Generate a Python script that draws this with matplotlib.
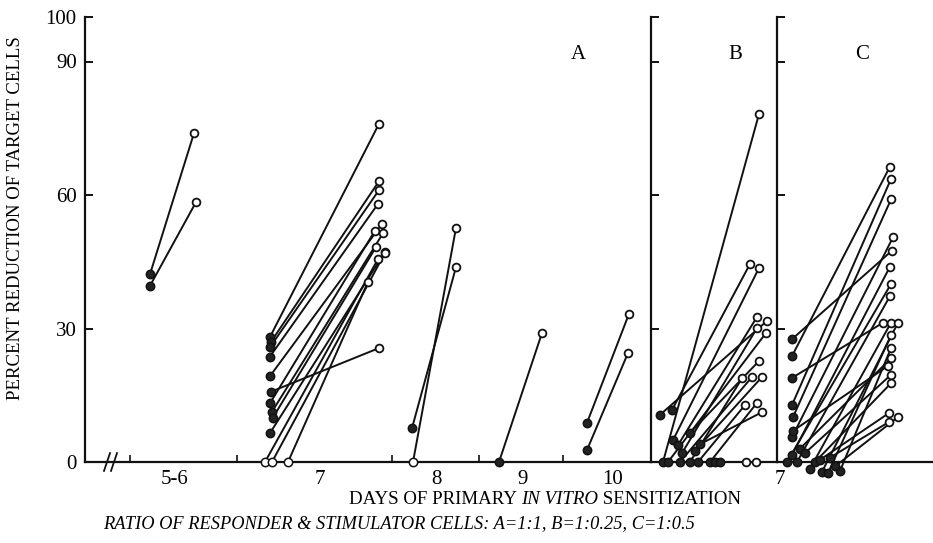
import matplotlib
matplotlib.use("Agg")
import matplotlib.pyplot as plt
from matplotlib.ticker import FixedLocator, NullFormatter, FixedFormatter

plt.rcParams['font.family'] = ['Liberation Serif', 'DejaVu Serif']

# ---------------- data (start x, start value, end x, end value) ----------------
# Panel A, ratio 1:1 (x in panel-local units)
a_x0 = [65, 65,
        185, 186, 185, 185, 185, 186, 185, 187, 188, 185, 180, 187, 203,
        327, 328,
        414,
        502, 502]
a_y0 = [42.2, 39.6,
        28.1, 27.0, 25.8, 23.7, 19.3, 15.8, 13.2, 11.3, 10.0, 6.5, 0, 0, 0,
        7.6, 0,
        0,
        8.8, 2.7]
a_x1 = [109, 111,
        294, 294, 294, 293, 297, 294, 290, 298, 291, 300, 293, 300, 283,
        371, 371,
        457,
        544, 543]
a_y1 = [73.9, 58.4,
        76.0, 63.1, 61.1, 58.0, 53.5, 25.6, 52.0, 51.4, 48.3, 47.2, 45.6, 47.0, 40.5,
        43.8, 52.6,
        29.0,
        33.3, 24.5]
a_start_filled = [True, True,
                  True, True, True, True, True, True, True, True, True, True, False, False, False,
                  True, False,
                  True,
                  True, True]

# Panel B, ratio 1:0.25
b_x0 = [12, 21, 22, 9, 27, 31, 17, 39, 29, 39, 44, 47, 59, 49, 64, 69]
b_y0 = [0, 11.7, 4.9, 10.6, 3.8, 2.0, 0, 6.5, 0, 0, 2.5, 0, 0, 4.0, 0, 0]
b_x1 = [108, 99, 108, 116, 106, 106, 115, 108, 101, 91, 111, 94, 106, 111, 95, 105]
b_y1 = [78.2, 44.5, 43.6, 31.7, 32.6, 30.1, 29.0, 22.7, 19.1, 18.8, 19.1, 12.8, 13.3, 11.2, 0, 0]

# Panel C, ratio 1:0.5
c_x0 = [15, 15, 15, 15, 16, 15, 15, 10, 20, 33, 45, 51, 63, 23, 16, 28, 38, 43, 58, 53]
c_y0 = [27.6, 23.8, 18.9, 12.8, 10.1, 5.6, 1.6, 0, 0, -1.5, -2.2, -2.5, -2.0, 3.0, 7.0, 2.0, 0, 0.5, -1.0, 1.0]
c_x1 = [115, 113, 106, 114, 114, 116, 113, 114, 113, 114, 121, 114, 114, 114, 111, 114, 114, 112, 121, 112]
c_y1 = [47.5, 66.4, 31.3, 63.6, 59.0, 50.5, 43.9, 40.0, 37.3, 31.3, 31.3, 28.5, 25.6, 23.3, 21.6, 19.6, 17.7, 11.0, 10.1, 9.0]

y_ticks = [0, 30, 60, 90, 100]
a_boundaries = [45, 152, 307, 394, 478]
a_day_pos = [90, 235, 351, 438, 528]
a_day_labels = ['5-6', '7', '8', '9', '10']
panel_names = ['A', 'B', 'C']

# ---------------- figure ----------------
W, H = 933, 543
fig = plt.figure(figsize=(W / 100, H / 100), dpi=100)

def fx(px):
    return px / W

def fy(py):
    return 1 - py / H

top, bottom = 17, 462
axA = fig.add_axes([fx(85), fy(bottom), fx(651 - 85), (bottom - top) / H])
axB = fig.add_axes([fx(651), fy(bottom), fx(777 - 651), (bottom - top) / H])
axC = fig.add_axes([fx(777), fy(bottom), fx(933 - 777), (bottom - top) / H])

ink = '#111111'
for ax, width in [(axA, 566), (axB, 126), (axC, 156)]:
    ax.set_xlim(0, width)
    ax.set_ylim(0, 100)
    ax.patch.set_alpha(0)
    for s in ['top', 'right']:
        ax.spines[s].set_visible(False)
    for s in ['left', 'bottom']:
        ax.spines[s].set_linewidth(1.6)
        ax.spines[s].set_color(ink)
    ax.yaxis.set_major_locator(FixedLocator(y_ticks))
    ax.tick_params(axis='y', direction='in', length=6, width=1.4, color=ink)
    ax.tick_params(axis='x', which='both', direction='in', length=5, width=1.2, color=ink)

axA.set_yticklabels([str(t) for t in y_ticks], fontsize=15)
axA.tick_params(axis='y', pad=6)
axB.set_yticklabels([])
axC.set_yticklabels([])

axA.xaxis.set_major_locator(FixedLocator(a_boundaries))
axA.xaxis.set_major_formatter(NullFormatter())
axA.xaxis.set_minor_locator(FixedLocator(a_day_pos))
axA.xaxis.set_minor_formatter(FixedFormatter(a_day_labels))
axA.tick_params(axis='x', which='minor', length=0, labelsize=15, pad=6)
axB.set_xticks([])
axC.set_xticks([3])
axC.set_xticklabels(['7'], fontsize=15)
axC.tick_params(axis='x', length=0, pad=6)

def draw(ax, x0, y0, x1, y1, filled=None):
    for i in range(len(x0)):
        ax.plot([x0[i], x1[i]], [y0[i], y1[i]], color=ink, lw=1.4,
                solid_capstyle='round', clip_on=False, zorder=2)
    for i in range(len(x0)):
        f = True if filled is None else filled[i]
        ax.plot([x0[i]], [y0[i]], marker='o', ms=6.0,
                mfc='#222222' if f else 'white', mec=ink, mew=1.1,
                clip_on=False, zorder=3)
        ax.plot([x1[i]], [y1[i]], marker='o', ms=5.6, mfc='white', mec=ink,
                mew=1.3, clip_on=False, zorder=4)

draw(axA, a_x0, a_y0, a_x1, a_y1, a_start_filled)
draw(axB, b_x0, b_y0, b_x1, b_y1)
draw(axC, c_x0, c_y0, c_x1, c_y1)

# axis break marks
for bx in [22, 29]:
    axA.plot([bx - 3, bx + 3], [-2, 2], color=ink, lw=1.3, clip_on=False)

# panel letters
axA.text(493, 91.5, panel_names[0], fontsize=15, ha='center', va='center')
axB.text(84, 91.5, panel_names[1], fontsize=15, ha='center', va='center')
axC.text(85, 91.5, panel_names[2], fontsize=15, ha='center', va='center')

# y label
fig.text(fx(16), fy(218), 'PERCENT REDUCTION OF TARGET CELLS', rotation=90,
         fontsize=13.5, ha='center', va='center')

# x label with italic part
parts = [('DAYS OF PRIMARY ', 'normal'), ('IN VITRO', 'italic'), (' SENSITIZATION', 'normal')]
fig.canvas.draw()
renderer = fig.canvas.get_renderer()
texts = []
for s, st in parts:
    t = fig.text(0, fy(500), s, fontsize=13.6, style=st, ha='left', va='center')
    texts.append(t)
widths = [t.get_window_extent(renderer).width for t in texts]
total = sum(widths)
x = 545 - total / 2
for t, w in zip(texts, widths):
    t.set_x(fx(x))
    x += w

fig.text(fx(103), fy(524),
         'RATIO OF RESPONDER & STIMULATOR CELLS: A=1:1, B=1:0.25, C=1:0.5',
         fontsize=13.2, style='italic', ha='left', va='center')

fig.savefig('out.png', dpi=100)
